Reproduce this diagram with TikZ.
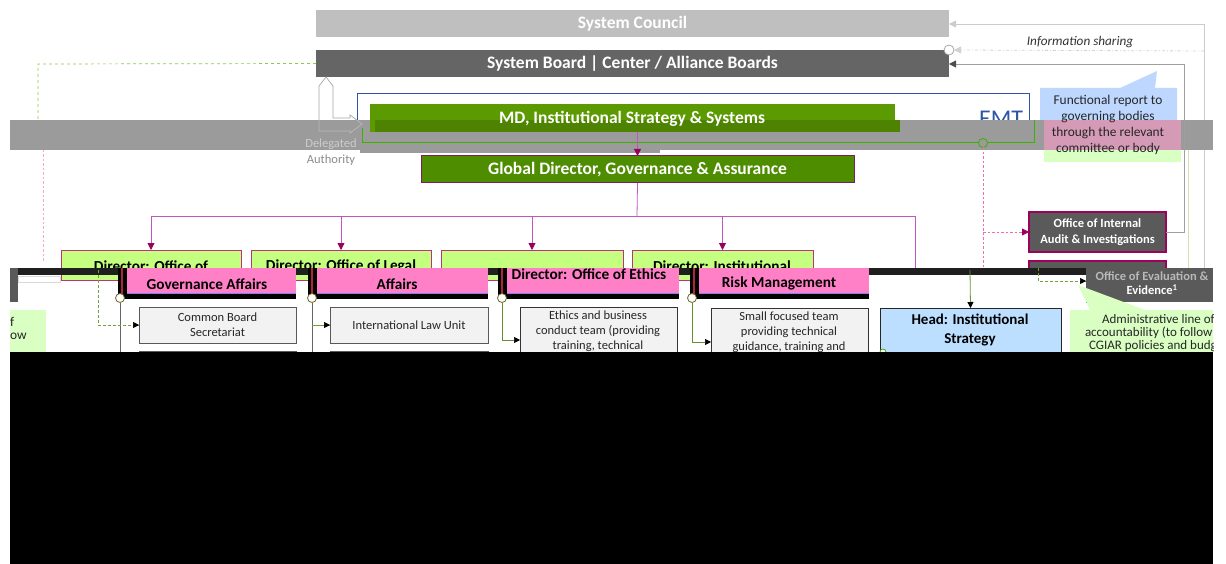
\documentclass[tikz,border=0pt]{standalone}
\usepackage{fontspec}
\setmainfont{Carlito}
\usetikzlibrary{arrows.meta}
\definecolor{councilgrey}{HTML}{BFBFBF}
\definecolor{boardgrey}{HTML}{656565}
\definecolor{mdgreen}{HTML}{5B9A00}
\definecolor{gdgreen}{HTML}{4E8C00}
\definecolor{gdborder}{HTML}{7A1F5C}
\definecolor{dirgreen}{HTML}{C4FF80}
\definecolor{dirborder}{HTML}{C0307F}
\definecolor{pinkbox}{HTML}{FF80C6}
\definecolor{subgrey}{HTML}{F2F2F2}
\definecolor{subborder}{HTML}{595959}
\definecolor{headblue}{HTML}{BDDFFF}
\definecolor{callblue}{HTML}{BDD7FF}
\definecolor{callpink}{HTML}{D49AB6}
\definecolor{callgreen}{HTML}{DAFFC2}
\definecolor{bandgrey}{HTML}{9B9B9B}
\definecolor{auditgrey}{HTML}{5A5A5A}
\definecolor{auditborder}{HTML}{9E005E}
\definecolor{emtblue}{HTML}{2F55A4}
\definecolor{treeline}{HTML}{C056C0}
\definecolor{treetip}{HTML}{99005C}
\definecolor{thingreen}{HTML}{3DB000}
\definecolor{dashgreen}{HTML}{8CCB4A}
\definecolor{dashpink}{HTML}{EC6FAE}
\begin{document}
\begin{tikzpicture}[x=1pt,y=-1pt,
  every node/.style={inner sep=0pt, outer sep=0pt},
  box/.style={rectangle, anchor=north west},
  title/.style={font=\fontsize{17.5}{21}\selectfont\bfseries, text=white},
  dirtext/.style={font=\fontsize{15.3}{18}\selectfont\bfseries, text=black},
  subtext/.style={font=\fontsize{12.5}{15}\selectfont, align=center, text=black!85},
  calltext/.style={font=\fontsize{13.4}{16}\selectfont, text=black!85},
  pinkdash/.style={dashpink, line width=0.9pt, dash pattern=on 2.5pt off 2pt},
  treetipstyle/.style={-{Triangle[length=7pt,width=7pt,color=treetip]}},
  blacktip/.style={-{Triangle[length=6pt,width=6pt,color=black]}},
  greytip/.style={-{Triangle[length=7pt,width=7pt,color=#1]}},
  dot/.style={circle, draw=#1, fill=white, line width=0.8pt, minimum size=9pt}
]
\useasboundingbox (0,0) rectangle (1226,564);
\fill[white] (0,0) rectangle (1226,564);

% ---------------- right-side connectors (back) ----------------
\coordinate (rc1) at (1204,268);
\coordinate (rc2) at (1204,24);
\coordinate (rs1) at (1204,51);
\coordinate (rb2) at (1184,64);
\coordinate (ry1) at (1188,120);
\coordinate (ry2) at (1188,268);
\draw[yellow!40!gray!50, line width=0.6pt] (ry1) -- (ry2);

% ---------------- top boxes ----------------
\node[box, fill=councilgrey, minimum width=633pt, minimum height=27pt] (council) at (316,10) {};
\node[title] (counciltxt) at (council.center) {System Council};
\node[box, fill=boardgrey, minimum width=633pt, minimum height=27pt] (board) at (316,50) {};
\node[title] (boardtxt) at (board.center) {System Board | Center / Alliance Boards};

\draw[gray!40, line width=0.8pt, greytip=gray!40] (rc1) -- (rc2) -- (council.east |- rc2);
\node[dot=gray!70, minimum size=10pt] (infodot) at (949,50) {};
\draw[gray!35, line width=0.8pt, dash dot, greytip=gray!35] (rs1) -- (infodot.east);
\node[font=\fontsize{13.2}{16}\selectfont\itshape, text=black!80] (infotxt) at (1080,42) {Information sharing};

% EMT frame
\draw[emtblue, line width=0.9pt] (357,140) -- (357,93) -- (1029,93) -- (1029,140);
\node[font=\fontsize{24}{28}\selectfont, text=emtblue, anchor=base] (emt) at (1001,127) {EMT};

% Functional report callout (blue part)
\fill[callblue] (1040,88) -- (1120,88) -- (1157,71) -- (1155,88) -- (1177,88) -- (1177,120) -- (1040,120) -- cycle;

% green dashed from board to left
\coordinate (gl1) at (38,64);
\coordinate (gl2) at (38,135);
\draw[dashgreen, line width=0.7pt, dashed] (board.west) -- (gl1) -- (gl2);

% Delegated authority arrow (white body)
\filldraw[fill=white, draw=gray!70, line width=0.7pt] (319,131) -- (319,86) -- (326,77) -- (333,86) -- (333,118) -- (350,118) -- (350,115) -- (362,124) -- (350,133) -- (350,131) -- cycle;

% ---------------- grey band ----------------
\fill[bandgrey] (10,120) rectangle (1213,150);
\fill[bandgrey] (360,150) rectangle (660,153);
\draw[gray!55, line width=0.7pt] (319,120) -- (319,131) -- (350,131) -- (350,133) -- (362,124) -- (354,118);

% green thin frame in band
\draw[thingreen, line width=0.8pt] (362,128) -- (362,142) -- (1034,142) -- (1034,120);
\node[dot=thingreen, fill=bandgrey] (emtdot) at (983,143) {};

% MD box
\node[box, fill=mdgreen, minimum width=525pt, minimum height=28pt] (md) at (370,104) {};
\fill[mdgreen!85!black] (375,120) rectangle (900,132);
\node[title] (mdtxt) at (632,119) {MD, Institutional Strategy \& Systems};

% Delegated Authority text
\node[font=\fontsize{12.5}{15}\selectfont, text=gray!40] (deltxt1) at (331,144) {Delegated};
\node[font=\fontsize{12.5}{15}\selectfont, text=gray!90] (deltxt2) at (331,160) {Authority};

% pink/green parts of callout
\fill[callpink] (1044,120) rectangle (1181,150);
\fill[callgreen] (1044,150) rectangle (1181,162);
\node[calltext] (fr1) at (1108,101) {Functional report to};
\node[calltext] (fr2) at (1108,117) {governing bodies};
\node[calltext] (fr3) at (1108,133) {through the relevant};
\node[calltext] (fr4) at (1108,149) {committee or body};

% board arrow from audit
\coordinate (rb1) at (1184,232);

% left pink dotted line
\coordinate (pl1) at (43,150);
\coordinate (pl2) at (43,262);
\draw[pinkdash, dashpink!60] (pl1) -- (pl2);

% ---------------- Global director ----------------
\node[box, fill=gdgreen, draw=gdborder, line width=1pt, minimum width=433pt, minimum height=27pt] (gd) at (421,156) {};
\node[title] (gdtxt) at (gd.center) {Global Director, Governance \& Assurance};
\draw[treeline, line width=0.8pt, treetipstyle] (md.south -| gd.north) -- (gd.north);

% Directors
\node[box, fill=dirgreen, draw=dirborder, line width=0.8pt, minimum width=180pt, minimum height=30pt] (d1) at (61,250) {};
\node[box, fill=dirgreen, draw=dirborder, line width=0.8pt, minimum width=180pt, minimum height=30pt] (d2) at (251,250) {};
\node[box, fill=dirgreen, draw=dirborder, line width=0.8pt, minimum width=182pt, minimum height=30pt] (d3) at (441,250) {};
\node[box, fill=dirgreen, draw=dirborder, line width=0.8pt, minimum width=181pt, minimum height=30pt] (d4) at (632,250) {};
\node[dirtext] (d1txt) at (151,266) {Director: Office of};
\node[dirtext] (d2txt) at (341,266) {Director: Office of Legal};
\node[dirtext] (d4txt) at (722,266) {Director: Institutional};

\coordinate (bus) at (637,216);
\coordinate (busL) at (151,216);
\coordinate (busR) at (915,216);
\coordinate (busRend) at (915,268);
\draw[treeline, line width=0.8pt] (gd.south) -- (bus);
\draw[treeline, line width=0.8pt] (busL) -- (busR) -- (busRend);
\draw[treeline, line width=0.8pt, treetipstyle] (busL) -- (d1.north);
\draw[treeline, line width=0.8pt, treetipstyle] (d2.north |- bus) -- (d2.north);
\draw[treeline, line width=0.8pt, treetipstyle] (d3.north |- bus) -- (d3.north);
\draw[treeline, line width=0.8pt, treetipstyle] (d4.north |- bus) -- (d4.north);

% Audit box
\node[box, fill=auditgrey, draw=auditborder, line width=2.2pt, minimum width=137pt, minimum height=40pt] (audit) at (1029,212) {};
\node[font=\fontsize{12.5}{15.5}\selectfont\bfseries, text=white, align=center] (audittxt) at (audit.center) {Office of Internal\\Audit \& Investigations};
\draw[gray!75, line width=0.8pt, greytip=gray!60!black] (audit.east) -- (rb1) -- (rb2) -- (board.east |- rb2);
\node[box, fill=auditgrey, draw=auditborder, line width=2.2pt, minimum width=137pt, minimum height=40pt] (eval2) at (1029,261) {};

% pink dashed from EMT dot to audit
\coordinate (pd1) at (983,232);
\coordinate (pd2) at (983,268);
\draw[pinkdash] (emtdot.south) -- (pd2);
\draw[pinkdash, -{Triangle[length=7pt,width=7pt,color=treetip]}] (pd1) -- (audit.west);

% ---------------- black strip ----------------
\fill[black!88] (10,268) rectangle (1213,275);
\fill[black!65] (10,268) rectangle (18,302);
\fill[white] (18,275) rectangle (60,302);
\fill[white] (1027,275) rectangle (1086,305);
\draw[gray!30, line width=0.6pt] (18,276) rectangle (60,282);

% Pink boxes
\foreach \n/\x/\w in {p1/118/178, p2/308/180, p3/498/181, p4/690/179}{
  \node[box, fill=pinkbox, minimum width=\w pt, minimum height=26pt] (\n) at (\x,268) {};
  \fill[black] (\x,268) rectangle (\x+9,299);
  \fill[pinkbox!40!red!70!black] (\x+3,268) rectangle (\x+5,294);
  \fill[black] (\x,294) rectangle (\x+\w,299);
  \draw[blue!50, line width=0.5pt] (\x+9,293.5) -- (\x+\w,293.5);
}
\node[dirtext] (p1txt) at (207,284) {Governance Affairs};
\node[dirtext] (p2txt) at (397,284) {Affairs};
\node[dirtext] (p3txt) at (589,274) {Director: Office of Ethics};
\node[dirtext] (p4txt) at (779,283) {Risk Management};

% sub boxes
\node[box, fill=subgrey, draw=subborder, line width=0.9pt, minimum width=157pt, minimum height=36pt] (cbs) at (139,307) {};
\node[subtext] (cbstxt) at (cbs.center) {Common Board\\Secretariat};
\node[box, fill=subgrey, draw=subborder, line width=0.9pt, minimum width=157pt, minimum height=30pt] (cbs2) at (139,351) {};
\node[box, fill=subgrey, draw=subborder, line width=0.9pt, minimum width=158pt, minimum height=36pt] (ilu) at (330,307) {};
\node[subtext] (ilutxt) at (ilu.center) {International Law Unit};
\node[box, fill=subgrey, draw=subborder, line width=0.9pt, minimum width=158pt, minimum height=30pt] (ilu2) at (330,351) {};
\node[box, fill=subgrey, draw=black!80, line width=0.9pt, minimum width=157pt, minimum height=60pt] (eth) at (520,307) {};
\node[subtext, anchor=north] (ethtxt) at (598,311) {Ethics and business\\conduct team (providing\\training, technical};
\node[box, fill=subgrey, draw=black!80, line width=0.9pt, minimum width=157pt, minimum height=60pt] (sft) at (711,308) {};
\node[subtext, anchor=north] (sfttxt) at (789,312) {Small focused team\\providing technical\\guidance, training and};
\node[box, fill=headblue, draw=black!85, line width=0.9pt, minimum width=181pt, minimum height=60pt] (head) at (880,308) {};
\node[font=\fontsize{15}{19}\selectfont\bfseries, align=center, anchor=north] (headtxt) at (970,314) {Head: Institutional\\Strategy};

% connectors under pink boxes
\node[dot=olive!70!black] (c1) at (120,298) {};
\node[dot=olive!70!black] (c2) at (312,298) {};
\node[dot=olive!70!black] (c3) at (502,298) {};
\node[dot=olive!70!black] (c4) at (692,298) {};
\coordinate (c1e) at (120,352);
\coordinate (c2e) at (312,352);
\coordinate (c3b) at (502,340);
\coordinate (c4b) at (692,342);
\coordinate (ilub) at (312,325);
\coordinate (gd1) at (98,270);
\coordinate (gd2) at (98,325);
\draw[gray!80!black, line width=0.7pt] (c1.south) -- (c1e);
\draw[gray!80!black, line width=0.7pt] (c2.south) -- (c2e);
\draw[dashgreen!80!black, line width=0.7pt] (ilub) -- (ilu.west |- ilub);
\draw[black, line width=0.7pt, -{Triangle[length=6pt,width=6pt,color=black]}] ([xshift=-6pt]ilu.west |- ilub) -- (ilu.west |- ilub);
\draw[dashgreen!80!black, line width=0.7pt, densely dashed] (gd1) -- (gd2) -- (cbs.west |- gd2);
\draw[black, line width=0.7pt, -{Triangle[length=6pt,width=6pt,color=black]}] ([xshift=-6pt]cbs.west |- gd2) -- (cbs.west |- gd2);
\draw[dashgreen!70!black, line width=0.7pt, blacktip] (c3.south) -- (c3b) -- (eth.west |- c3b);
\draw[dashgreen!70!black, line width=0.7pt, blacktip] (c4.south) -- (c4b) -- (sft.west |- c4b);
\coordinate (hd1) at (970,270);
\draw[dashgreen!75!black, line width=0.8pt, blacktip] (hd1) -- (head.north);
\node[dot=thingreen, minimum size=6pt] (headdot) at (883,352) {};

% Office of Evaluation
\node[box, fill=auditgrey, minimum width=127pt, minimum height=34pt] (eval) at (1086,268) {};
\fill[black] (1086,296) rectangle (1089,303);
\node[font=\fontsize{12.5}{15}\selectfont\bfseries, text=gray!55] (evaltxt1) at (1152,276) {Office of Evaluation \&};
\node[font=\fontsize{12.5}{15}\selectfont\bfseries, text=white] (evaltxt2) at (1152,290) {Evidence\textsuperscript{1}};
\coordinate (ed1) at (1038,268);
\coordinate (ed2) at (1038,281);
\draw[dashgreen!80!black, line width=0.7pt, densely dashed] (ed1) -- (ed2) -- (eval.west |- ed2);
\draw[black, line width=0.7pt, -{Triangle[length=6pt,width=6pt,color=black]}] ([xshift=-6pt]eval.west |- ed2) -- (eval.west |- ed2);

% Administrative callout (clipped at right)
\begin{scope}
  \clip (0,0) rectangle (1213,564);
  \fill[callgreen] (1070,310) -- (1090,310) -- (1078,285) -- (1145,310) -- (1226,310) -- (1226,352) -- (1070,352) -- cycle;
  \node[calltext, font=\fontsize{13}{15}\selectfont, anchor=north west] (adm1) at (1102,314) {Administrative line of};
  \node[calltext, font=\fontsize{13}{15}\selectfont, anchor=north west] (adm2) at (1085,327) {accountability (to follow};
  \node[calltext, font=\fontsize{13}{15}\selectfont, anchor=north west] (adm3) at (1089,340) {CGIAR policies and budget};
\end{scope}
% left callout (only the visible ends of its lines)
\fill[callgreen] (10,310) rectangle (46,352);
\node[calltext, anchor=north west] (lc1) at (10,317) {f};
\node[calltext, anchor=north west] (lc2) at (10,333) {ow};

% ---------------- black bottom ----------------
\fill[black] (10,352) rectangle (1213,564);
\end{tikzpicture}
\end{document}
